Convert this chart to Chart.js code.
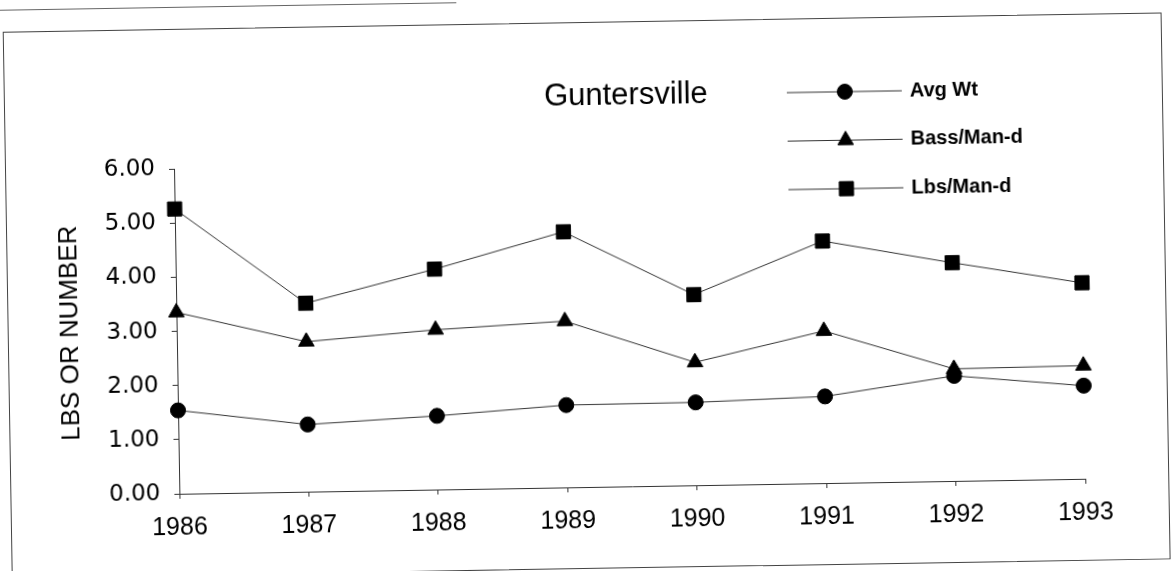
<!DOCTYPE html>
<html>
<head>
<meta charset="utf-8">
<title>Guntersville</title>
<script src="https://cdn.jsdelivr.net/npm/chart.js@4.4.1/dist/chart.umd.min.js"></script>
<style>
  html, body { margin: 0; padding: 0; background: #fff; overflow: hidden; }
  /* the scanned page is tilted about one degree */
  #wrap { position: relative; width: 1175px; height: 571px; transform: rotate(-0.95deg); transform-origin: 50% 50%; }
  #frame { position: absolute; left: 7px; top: 22px; width: 1157px; height: 545px; border: 1px solid #444; }
  #prevFrame { position: absolute; left: 3px; top: -8px; width: 457px; height: 8px; border-left: 1px solid #666; border-bottom: 1px solid #666; }
  canvas { position: absolute; left: 0; top: 0; }
</style>
</head>
<body>
<div id="wrap">
  <div id="prevFrame"></div>
  <div id="frame"></div>
  <canvas id="gChart" width="1175" height="571"></canvas>
</div>
<script>
// Datos
const years = ['1986', '1987', '1988', '1989', '1990', '1991', '1992', '1993'];
const avgWt = [1.54, 1.24, 1.36, 1.52, 1.53, 1.60, 1.94, 1.72];
const bassPerManDay = [3.35, 2.77, 2.95, 3.07, 2.27, 2.81, 2.07, 2.09];
const lbsPerManDay = [5.26, 3.48, 4.07, 4.72, 3.52, 4.47, 4.03, 3.62];
const yTicks = [0, 1, 2, 3, 4, 5, 6];

// Legend: line with the marker in the middle, label to the right
const lineLegend = {
    id: 'lineLegend',
    afterDraw(chart) {
        const ctx = chart.ctx;
        ctx.save();
        chart.data.datasets.forEach((ds, i) => {
            const y = 96 + i * 48.5;
            ctx.strokeStyle = ds.borderColor;
            ctx.lineWidth = 1;
            ctx.beginPath();
            ctx.moveTo(790, y);
            ctx.lineTo(905, y);
            ctx.stroke();

            ctx.fillStyle = ds.pointBackgroundColor;
            ctx.strokeStyle = ds.pointBorderColor;
            Chart.helpers.drawPoint(ctx, {
                pointStyle: ds.pointStyle,
                radius: ds.pointRadius,
                rotation: 0,
                borderWidth: ds.pointBorderWidth
            }, 848, y);

            ctx.fillStyle = '#000';
            ctx.font = 'bold 20px "Liberation Sans", Arial, sans-serif';
            ctx.textAlign = 'left';
            ctx.textBaseline = 'middle';
            ctx.fillText(ds.label, 913, y);
        });
        ctx.restore();
    }
};

function series(label, data, pointStyle, radius) {
    return {
        label: label,
        data: data,
        borderColor: '#333',
        borderWidth: 1,
        pointStyle: pointStyle,
        pointRadius: radius,
        pointBackgroundColor: '#000',
        pointBorderColor: '#000',
        pointBorderWidth: 1,
        fill: false,
        tension: 0
    };
}

const ctx = document.getElementById('gChart').getContext('2d');
const gChart = new Chart(ctx, {
    type: 'line',
    data: {
        labels: years,
        datasets: [
            series('Avg Wt', avgWt, 'circle', 7.5),
            series('Bass/Man-d', bassPerManDay, 'triangle', 9),
            series('Lbs/Man-d', lbsPerManDay, 'rect', 10)
        ]
    },
    options: {
        responsive: false,
        animation: false,
        layout: { padding: { left: 0, right: 93, top: 0, bottom: 0 } },
        plugins: {
            legend: { display: false },
            tooltip: { enabled: false },
            title: {
                display: true,
                text: 'Guntersville',
                fullSize: false,
                color: '#000',
                font: { family: '"Liberation Sans", Arial, sans-serif', size: 31, weight: 'normal', lineHeight: 1.1 },
                padding: { top: 79, bottom: 49 }
            }
        },
        scales: {
            x: {
                offset: false,
                grid: { display: true, drawOnChartArea: false, drawTicks: true, tickLength: 5, color: '#333' },
                border: { display: true, color: '#333', width: 1 },
                ticks: {
                    color: '#000',
                    padding: 14,
                    maxRotation: 0,
                    autoSkip: false,
                    font: { family: '"Liberation Sans", Arial, sans-serif', size: 25 }
                },
                afterFit(scale) { scale.height = 84; }
            },
            y: {
                min: 0,
                max: 6,
                grid: { display: true, drawOnChartArea: false, drawTicks: true, tickLength: 5, color: '#333' },
                border: { display: true, color: '#333', width: 1 },
                afterBuildTicks(scale) { scale.ticks = yTicks.map(v => ({ value: v })); },
                ticks: {
                    color: '#000',
                    padding: 14,
                    font: { family: '"DejaVu Sans", sans-serif', size: 23 },
                    callback: value => Number(value).toFixed(2)
                },
                title: {
                    display: true,
                    text: 'LBS OR NUMBER',
                    color: '#000',
                    font: { family: '"Liberation Sans", Arial, sans-serif', size: 26 },
                    padding: { top: 54, bottom: 0 }
                },
                afterFit(scale) { scale.width = 176; }
            }
        }
    },
    plugins: [lineLegend]
});
</script>
</body>
</html>
